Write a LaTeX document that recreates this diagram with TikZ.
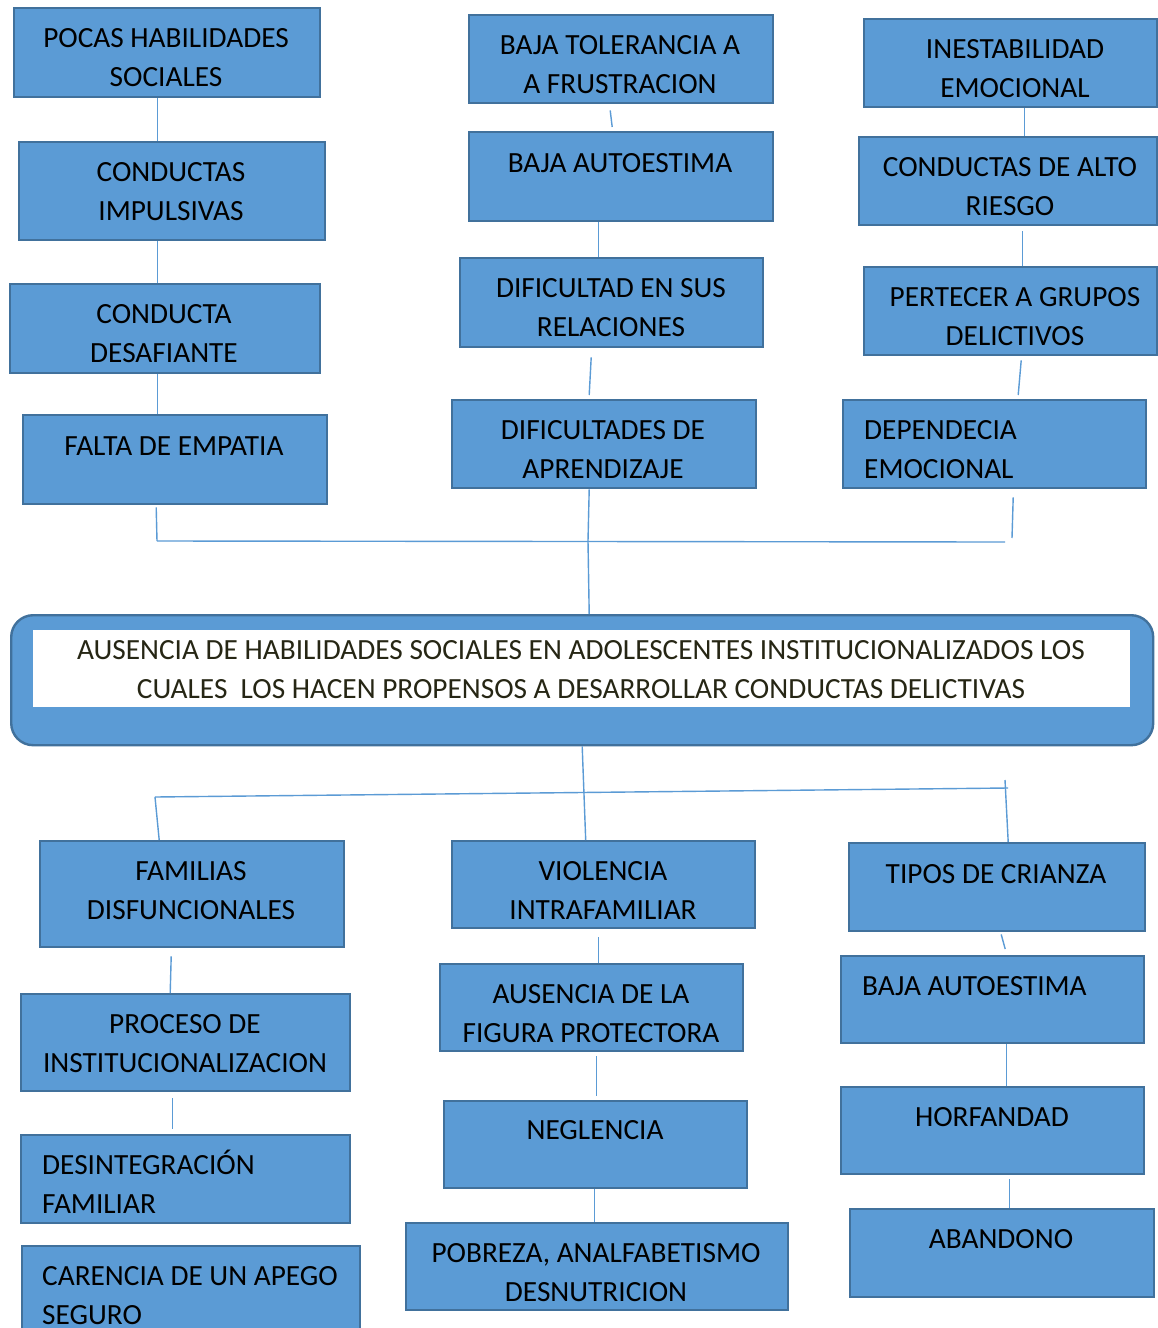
\documentclass[tikz,border=0pt]{standalone}
\usepackage{fontspec}
\setmainfont{Carlito}
\definecolor{fillc}{HTML}{5B9BD5}
\definecolor{bordc}{HTML}{41719C}
\definecolor{linec}{HTML}{5B9BD5}
\definecolor{darktxt}{HTML}{262614}
\tikzset{
  box/.style={draw=bordc, fill=fillc, line width=2.4pt, rectangle, inner sep=0pt, anchor=north west},
  txt/.style={inner sep=0pt, font=\fontsize{29.3}{39}\selectfont, text=black},
  conn/.style={draw=linec, line width=1.4pt}
}
\newcommand\mkbox[5]{\node[box, minimum width={#4pt-#2pt}, minimum height={#5pt-#3pt}] (#1) at (#2,#3) {};}
\newcommand\ctext[4]{\node[txt, anchor=base] (#1) at (#2,#3+1) {\begin{tabular}[t]{@{}c@{}}#4\end{tabular}};}
\newcommand\ltext[4]{\node[txt, anchor=base west] (#1) at (#2,#3+1) {\begin{tabular}[t]{@{}l@{}}#4\end{tabular}};}
\begin{document}
\begin{tikzpicture}[x=1pt,y=-1pt]
\useasboundingbox[fill=white] (0,0) rectangle (1157,1328);
% top left column
\mkbox{n1}{13}{7}{319}{96}
\ctext{t1}{166}{46}{POCAS HABILIDADES\\SOCIALES}
\mkbox{n2}{18}{141}{324}{239}
\ctext{t2}{171}{180}{CONDUCTAS\\IMPULSIVAS}
\mkbox{n3}{9}{283}{319}{372}
\ctext{t3}{164}{322}{CONDUCTA\\DESAFIANTE}
\mkbox{n4}{22}{414}{326}{503}
\ctext{t4}{174}{454}{FALTA DE EMPATIA}
% top middle column
\mkbox{n5}{468}{14}{772}{102}
\ctext{t5}{620}{53}{BAJA TOLERANCIA A\\A FRUSTRACION}
\mkbox{n6}{468}{131}{772}{220}
\ctext{t6}{620}{171}{BAJA AUTOESTIMA}
\mkbox{n7}{459}{257}{762}{346}
\ctext{t7}{611}{296}{DIFICULTAD EN SUS\\RELACIONES}
\mkbox{n8}{451}{399}{755}{487}
\ctext{t8}{603}{438}{DIFICULTADES DE\\APRENDIZAJE}
% top right column
\mkbox{n9}{863}{18}{1156}{106}
\ctext{t9}{1015}{57}{INESTABILIDAD\\EMOCIONAL}
\mkbox{n10}{858}{136}{1156}{224}
\ctext{t10}{1010}{175}{CONDUCTAS DE ALTO\\RIESGO}
\mkbox{n11}{863}{266}{1156}{354}
\ctext{t11}{1015}{305}{PERTECER A GRUPOS\\DELICTIVOS}
\mkbox{n12}{842}{399}{1145}{487}
\ltext{t12}{864}{438}{DEPENDECIA\\EMOCIONAL}
% central box
\node[draw=bordc, fill=fillc, line width=2.4pt, rounded corners=22pt, inner sep=0pt, anchor=north west,
      minimum width=1142pt, minimum height=130pt] (c) at (10,614) {};
\fill[white] (33,630) rectangle (1130,707);
\node[txt, anchor=base, text=darktxt] (ct) at (581,659) {\begin{tabular}[t]{@{}c@{}}AUSENCIA DE HABILIDADES SOCIALES EN ADOLESCENTES INSTITUCIONALIZADOS LOS\\CUALES~\ LOS HACEN PROPENSOS A DESARROLLAR CONDUCTAS DELICTIVAS\end{tabular}};
% bottom left column
\mkbox{n13}{39}{840}{343}{946}
\ctext{t13}{191}{879}{FAMILIAS\\DISFUNCIONALES}
\mkbox{n14}{20}{993}{349}{1090}
\ctext{t14}{185}{1032}{PROCESO DE\\INSTITUCIONALIZACION}
\mkbox{n15}{20}{1134}{349}{1222}
\ltext{t15}{42}{1173}{DESINTEGRACIÓN\\FAMILIAR}
\mkbox{n16}{21}{1245}{359}{1345}
\ltext{t16}{42}{1284}{CARENCIA DE UN APEGO\\SEGURO}
% bottom middle column
\mkbox{n17}{451}{840}{754}{927}
\ctext{t17}{603}{879}{VIOLENCIA\\INTRAFAMILIAR}
\mkbox{n18}{439}{963}{742}{1050}
\ctext{t18}{591}{1002}{AUSENCIA DE LA\\FIGURA PROTECTORA}
\mkbox{n19}{443}{1100}{746}{1187}
\ctext{t19}{595}{1138}{NEGLENCIA}
\mkbox{n20}{405}{1222}{787}{1309}
\ctext{t20}{596}{1261}{POBREZA, ANALFABETISMO\\DESNUTRICION}
% bottom right column
\mkbox{n21}{848}{842}{1144}{930}
\ctext{t21}{996}{882}{TIPOS DE CRIANZA}
\mkbox{n22}{840}{955}{1143}{1042}
\ltext{t22}{862}{994}{BAJA AUTOESTIMA}
\mkbox{n23}{840}{1086}{1143}{1173}
\ctext{t23}{992}{1125}{HORFANDAD}
\mkbox{n24}{849}{1208}{1153}{1296}
\ctext{t24}{1001}{1247}{ABANDONO}
% junction coordinates
\coordinate (jl) at (157,541);
\coordinate (jr) at (1005,542);
\coordinate (jc) at (588,541);
\coordinate (jr2) at (1012,538);
\coordinate (bl) at (155,797);
\coordinate (br) at (1008,788);
\coordinate (brt) at (1005,780);
% top connectors
\draw[conn] ([xshift=-10pt]n1.south) -- ([xshift=-15pt]n2.north);
\draw[conn] ([xshift=-15pt]n2.south) -- ([xshift=-8pt]n3.north);
\draw[conn] ([xshift=-8pt]n3.south) -- ([xshift=-18pt]n4.north);
\draw[conn] ([xshift=-19pt,yshift=-2pt]n4.south) -- (jl);
\draw[conn] ([xshift=-11pt,yshift=-6pt]n5.south) -- ([xshift=-9pt,yshift=4pt]n6.north);
\draw[conn] ([xshift=-23pt]n6.south) -- ([xshift=-13.5pt]n7.north);
\draw[conn] ([xshift=-20.5pt,yshift=-9pt]n7.south) -- ([xshift=-15pt,yshift=4pt]n8.north);
\draw[conn] ([xshift=-15pt]n8.south) -- (jc);
\draw[conn] ([xshift=13.5pt]n9.south) -- ([xshift=16pt]n10.north);
\draw[conn] ([xshift=14pt,yshift=-5pt]n10.south) -- ([xshift=11.5pt]n11.north);
\draw[conn] ([xshift=10.5pt,yshift=-4pt]n11.south) -- ([xshift=23.5pt,yshift=4pt]n12.north);
\draw[conn] ([xshift=18.5pt,yshift=-8pt]n12.south) -- (jr2);
\draw[conn] (jl) -- (jr);
\draw[conn] (jc) -- ([xshift=7pt]c.north);
% bottom connectors
\draw[conn] (c.south) -- ([xshift=-18pt]n17.north);
\draw[conn] (bl) -- (br);
\draw[conn] (bl) -- ([xshift=-33pt]n13.north);
\draw[conn] (brt) -- ([xshift=11pt]n21.north);
\draw[conn] ([xshift=-21pt,yshift=-8pt]n13.south) -- ([xshift=-15.5pt]n14.north);
\draw[conn] ([xshift=-13.5pt,yshift=-6pt]n14.south) -- ([xshift=-13.5pt,yshift=5pt]n15.north);
\draw[conn] ([xshift=-5.5pt,yshift=-8pt]n17.south) -- ([xshift=6.5pt]n18.north);
\draw[conn] ([xshift=4.5pt,yshift=-4pt]n18.south) -- ([xshift=0.5pt,yshift=4pt]n19.north);
\draw[conn] ([xshift=-1.5pt]n19.south) -- ([xshift=-3pt]n20.north);
\draw[conn] ([xshift=4pt,yshift=-2pt]n21.south) -- ([xshift=12.5pt,yshift=6pt]n22.north);
\draw[conn] ([xshift=13.5pt]n22.south) -- ([xshift=13.5pt]n23.north);
\draw[conn] ([xshift=16.5pt,yshift=-4pt]n23.south) -- ([xshift=7pt]n24.north);
\end{tikzpicture}
\end{document}
